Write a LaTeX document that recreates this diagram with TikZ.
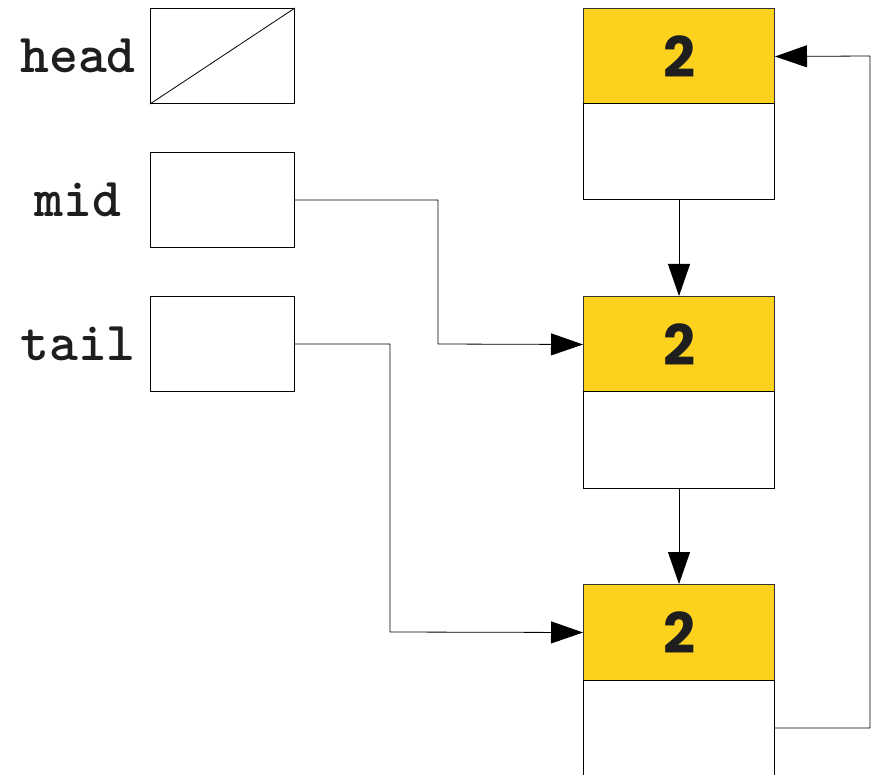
\documentclass[tikz,border=0pt]{standalone}
\usepackage{fontspec}
\usetikzlibrary{arrows.meta}
\newfontfamily\numfont{Poppins}
\definecolor{nodeyellow}{HTML}{FDD21F}
\definecolor{numcol}{HTML}{1E1E1E}
\begin{document}
\begin{tikzpicture}[x=1pt,y=-1pt,
  ptrbox/.style={draw=black,line width=1pt,minimum width=144pt,minimum height=95pt,inner sep=0pt,anchor=north west},
  valbox/.style={draw=black!80,fill=nodeyellow,line width=1pt,minimum width=191pt,minimum height=96pt,inner sep=0pt,anchor=north west,font=\numfont\bfseries\fontsize{56}{56}\selectfont,text=numcol},
  nextbox/.style={draw=black,fill=white,line width=1pt,minimum width=191pt,minimum height=96pt,inner sep=0pt,anchor=north west},
  lbl/.style={font=\ttfamily\bfseries\fontsize{55}{55}\selectfont,text=numcol},
  conn/.style={line width=0.8pt,-{Triangle[length=32pt,width=22pt]}}]
\useasboundingbox (0,0) rectangle (878,775);
% pointer boxes
\node[ptrbox] (headbox) at (150,8) {};
\node[ptrbox] (midbox) at (150,152) {};
\node[ptrbox] (tailbox) at (150,296) {};
\draw[line width=0.8pt] (headbox.south west) -- (headbox.north east);
% labels
\node[lbl] (headlbl) at (78,56) {head};
\node[lbl] (midlbl) at (78,200) {mid};
\node[lbl] (taillbl) at (78,344) {tail};
% list nodes
\node[valbox] (v1) at (583,8) {2};
\node[nextbox] (n1) at (583,103.5) {};
\node[valbox] (v2) at (583,296) {2};
\node[nextbox] (n2) at (583,391.5) {};
\node[valbox] (v3) at (583,584) {2};
\node[nextbox] (n3) at (583,679.5) {};
% connectors
\coordinate (m1) at (438,200);
\coordinate (m2) at (438,344);
\draw[conn] (midbox.east) -- (m1) -- (m2) -- (v2.west);
\coordinate (t1) at (390,344);
\coordinate (t2) at (390,632);
\draw[conn] (tailbox.east) -- (t1) -- (t2) -- (v3.west);
\draw[conn] (n1.south) -- (v2.north);
\draw[conn] (n2.south) -- (v3.north);
\coordinate (b1) at (870,728);
\coordinate (b2) at (870,56);
\draw[conn] (n3.east) -- (b1) -- (b2) -- (v1.east);
\end{tikzpicture}
\end{document}
